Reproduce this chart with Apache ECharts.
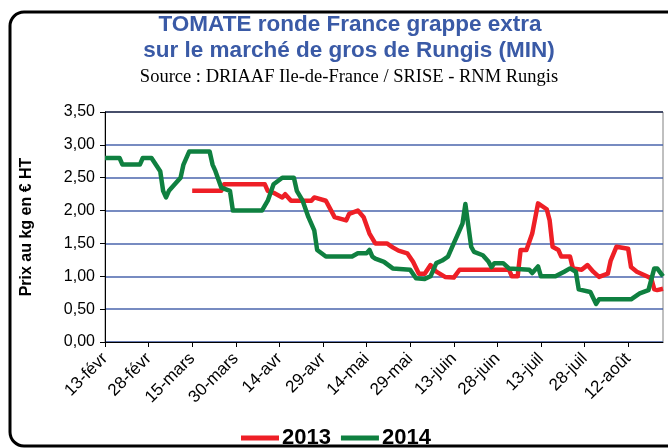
<!DOCTYPE html>
<html>
<head>
<meta charset="utf-8">
<script src="https://cdn.jsdelivr.net/npm/echarts@6/dist/echarts.min.js"></script>
<style>
  html, body { margin: 0; padding: 0; background: #fff; }
  #chart { width: 668px; height: 448px; }
</style>
</head>
<body>
<div id="chart"></div>
<script>
// tick labels, one every 15 days starting 13-févr
var tickLabels = ['13-févr', '28-févr', '15-mars', '30-mars', '14-avr', '29-avr', '14-mai',
    '29-mai', '13-juin', '28-juin', '13-juil', '28-juil', '12-août'];

// day offset from 13-févr / price (€/kg HT)
var days2013 = [30, 40, 41, 55, 56, 58, 61, 62, 64, 71, 72, 76, 79, 83, 84, 87, 89, 91, 93, 97,
    99, 101, 104, 106, 108, 110, 112, 114, 117, 120, 122, 139, 140, 142, 143, 145, 147, 149, 152, 153,
    154, 156, 157, 160, 161, 164, 166, 168, 170, 173, 174, 176, 180, 181, 183, 187, 188, 189, 190, 192];
var price2013 = [2.3, 2.3, 2.4, 2.4, 2.3, 2.27, 2.2, 2.25, 2.15, 2.15, 2.2, 2.15, 1.9, 1.85, 1.95, 2.0, 1.9, 1.65, 1.5, 1.5,
    1.44, 1.39, 1.35, 1.22, 1.04, 1.04, 1.17, 1.07, 0.99, 0.98, 1.1, 1.1, 1.0, 1.0, 1.4, 1.4, 1.65, 2.11, 2.02, 1.85,
    1.45, 1.4, 1.3, 1.3, 1.12, 1.1, 1.17, 1.07, 0.99, 1.04, 1.24, 1.45, 1.42, 1.14, 1.07, 0.99, 0.96, 0.8, 0.79, 0.81];

var days2014 = [0, 5, 6, 12, 13, 16, 19, 20, 21, 22, 26, 27, 29, 36, 37, 38, 40, 43, 44, 54,
    56, 58, 61, 65, 66, 68, 70, 72, 73, 76, 85, 87, 90, 91, 92, 93, 96, 99, 105, 107,
    110, 112, 114, 116, 118, 120, 121, 123, 124, 126, 127, 130, 132, 133, 134, 137, 139, 146, 147, 149,
    150, 155, 158, 160, 162, 163, 167, 169, 170, 181, 184, 187, 189, 190, 192];
var price2014 = [2.8, 2.8, 2.7, 2.7, 2.8, 2.8, 2.6, 2.3, 2.2, 2.3, 2.5, 2.7, 2.9, 2.9, 2.7, 2.6, 2.35, 2.3, 2.0, 2.0,
    2.15, 2.4, 2.5, 2.5, 2.3, 2.15, 1.9, 1.7, 1.4, 1.3, 1.3, 1.35, 1.35, 1.4, 1.3, 1.27, 1.22, 1.12, 1.1, 0.97,
    0.96, 1.0, 1.2, 1.24, 1.3, 1.5, 1.6, 1.8, 2.1, 1.45, 1.37, 1.32, 1.22, 1.14, 1.2, 1.2, 1.12, 1.1, 1.05, 1.15,
    1.0, 1.0, 1.07, 1.12, 1.07, 0.8, 0.76, 0.58, 0.65, 0.65, 0.74, 0.79, 1.12, 1.12, 1.0];

function pairs(xs, ys) {
    return xs.map(function (x, i) { return [x, ys[i]]; });
}

var sans = '"Liberation Sans", Arial, sans-serif';
var blue = '#3a5aa6';

var myChart = echarts.init(document.getElementById('chart'));
var option = {
    animation: false,
    graphic: [
        {
            type: 'rect',
            shape: { x: 10, y: 12, width: 680, height: 434, r: 14 },
            style: { fill: 'none', stroke: '#000', lineWidth: 3 },
            silent: true
        },
        {
            type: 'text', x: 350, y: 25,
            style: {
                text: 'TOMATE ronde France grappe extra', fill: blue,
                font: 'bold 22.5px ' + sans, textAlign: 'center', textVerticalAlign: 'middle'
            }
        },
        {
            type: 'text', x: 349, y: 51,
            style: {
                text: 'sur le marché de gros de Rungis (MIN)', fill: blue,
                font: 'bold 22.5px ' + sans, textAlign: 'center', textVerticalAlign: 'middle'
            }
        },
        {
            type: 'text', x: 349, y: 77,
            style: {
                text: 'Source : DRIAAF Ile-de-France / SRISE - RNM Rungis', fill: '#000',
                font: '18.5px "Liberation Serif", "Times New Roman", serif',
                textAlign: 'center', textVerticalAlign: 'middle'
            }
        }
    ],
    grid: {
        left: 105,
        right: 5,
        top: 112,
        bottom: 106,
        show: true,
        borderColor: '#808080',
        borderWidth: 1
    },
    legend: {
        top: 422,
        left: 236,
        icon: 'rect',
        itemWidth: 38,
        itemHeight: 5,
        itemGap: 10,
        textStyle: { fontFamily: sans, fontWeight: 'bold', fontSize: 22, color: '#000', padding: [0, 0, 0, -2] },
        data: ['2013', '2014']
    },
    xAxis: {
        type: 'value',
        min: 0,
        max: 192,
        interval: 15,
        axisLine: { show: true, lineStyle: { color: '#000', width: 1 } },
        axisTick: { show: true, length: 5, lineStyle: { color: '#000' } },
        splitLine: { show: false },
        axisLabel: {
            rotate: 45,
            margin: 14,
            fontFamily: sans,
            fontSize: 17,
            color: '#000',
            showMaxLabel: false,
            formatter: function (v) {
                var i = Math.round(v / 15);
                return (v % 15 === 0 && tickLabels[i]) ? tickLabels[i] : '';
            }
        }
    },
    yAxis: {
        type: 'value',
        min: 0,
        max: 3.5,
        interval: 0.5,
        name: 'Prix au kg en € HT',
        nameLocation: 'middle',
        nameGap: 70,
        nameTextStyle: { fontFamily: sans, fontWeight: 'bold', fontSize: 16, color: '#000' },
        axisLine: { show: true, lineStyle: { color: '#000', width: 1 } },
        axisTick: { show: true, length: 5, lineStyle: { color: '#000' } },
        splitLine: {
            lineStyle: {
                color: ['#4a65ad', '#4a65ad', '#4a65ad', '#4a65ad', '#4a65ad', '#4a65ad', '#4a65ad', '#1f2a4f'],
                width: 1.6
            }
        },
        axisLabel: {
            margin: 10,
            fontFamily: sans,
            fontSize: 16,
            color: '#000',
            formatter: function (v) { return v.toFixed(2).replace('.', ','); }
        }
    },
    series: [
        {
            name: '2013',
            type: 'line',
            showSymbol: false,
            color: '#ee1f26',
            lineStyle: { width: 4.5, join: 'round' },
            data: pairs(days2013, price2013)
        },
        {
            name: '2014',
            type: 'line',
            showSymbol: false,
            color: '#0f8040',
            lineStyle: { width: 4.5, join: 'round' },
            data: pairs(days2014, price2014)
        }
    ]
};
myChart.setOption(option);
</script>
</body>
</html>
